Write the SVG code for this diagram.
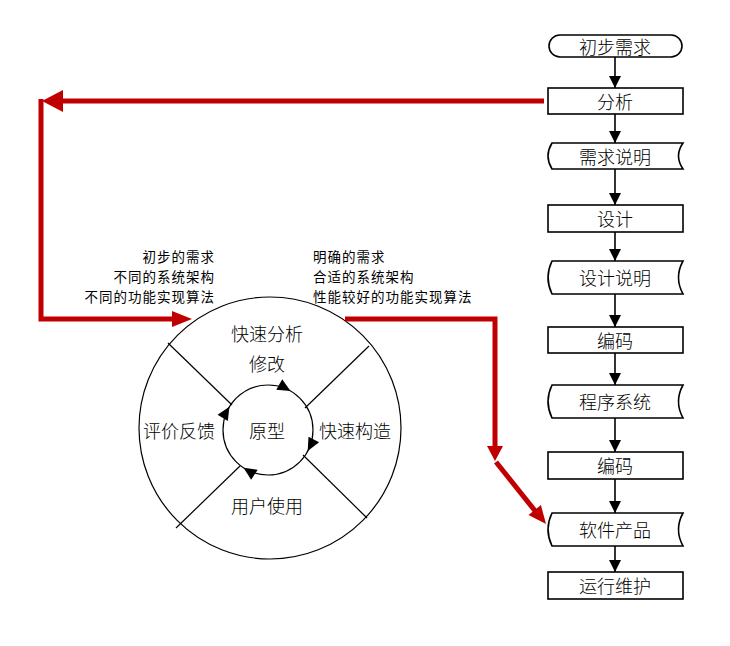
<svg xmlns="http://www.w3.org/2000/svg" xmlns:xlink="http://www.w3.org/1999/xlink" width="730" height="646" viewBox="0 0 730 646">
<style>
.box{fill:#fff;stroke:#000;stroke-width:1.6}
.lbl{font-family:"Noto Sans CJK SC","Liberation Sans",sans-serif;font-size:18px;font-weight:300;fill:#000;text-anchor:middle;dominant-baseline:central}
.cl{font-family:"Noto Sans CJK SC","Liberation Sans",sans-serif;font-size:18px;font-weight:300;fill:#000;text-anchor:middle;dominant-baseline:central}
.sm{font-family:"Noto Sans CJK SC","Liberation Sans",sans-serif;font-size:13.5px;fill:#000;letter-spacing:1px;dominant-baseline:central}
.blk{stroke:#000;stroke-width:1.6;fill:none}
.red{stroke:#C00000;stroke-width:5;fill:none}
.redh{fill:#C00000}
.thin{stroke:#000;stroke-width:1.2;fill:none}
</style>
<defs>
<marker id="ba" markerWidth="12" markerHeight="12" refX="12" refY="6" orient="auto" markerUnits="userSpaceOnUse"><path d="M0,0 L12,6 L0,12 Z" fill="#000"/></marker>
<path id="ah" d="M0,0 L-13,-6 L-13,6 Z" fill="#000"/>
</defs>
<rect width="730" height="646" fill="#fff"/>

<g id="n-chubu"><rect class="box" x="549" y="35" width="133" height="22" rx="11"/><text class="lbl" x="615" y="46">初步需求</text></g>
<g id="n-fenxi"><rect class="box" x="548" y="88" width="135" height="26"/><text class="lbl" x="615" y="101">分析</text></g>
<g id="n-xqsm"><path class="box" d="M552,143 H683 Q674,156 683,169 H552 Q544,156 552,143 Z"/><text class="lbl" x="615" y="156">需求说明</text></g>
<g id="n-sheji"><rect class="box" x="548" y="205" width="135" height="27"/><text class="lbl" x="615" y="218">设计</text></g>
<g id="n-sjsm"><path class="box" d="M552,261 H683 Q674,277.5 683,294 H552 Q544,277.5 552,261 Z"/><text class="lbl" x="615" y="277">设计说明</text></g>
<g id="n-bianma1"><rect class="box" x="548" y="327" width="135" height="26"/><text class="lbl" x="615" y="340">编码</text></g>
<g id="n-cxxt"><path class="box" d="M552,385 H683 Q674,401.5 683,418 H552 Q544,401.5 552,385 Z"/><text class="lbl" x="615" y="401">程序系统</text></g>
<g id="n-bianma2"><rect class="box" x="548" y="452" width="135" height="27"/><text class="lbl" x="615" y="465">编码</text></g>
<g id="n-rjcp"><path class="box" d="M552,513 H683 Q674,529.5 683,546 H552 Q544,529.5 552,513 Z"/><text class="lbl" x="615" y="529">软件产品</text></g>
<g id="n-yxwh"><rect class="box" x="548" y="572" width="135" height="27"/><text class="lbl" x="615" y="585">运行维护</text></g>

<g id="n-cycle">
<circle class="thin" cx="270" cy="428" r="131"/>
<circle class="thin" cx="268" cy="430" r="45"/>
<line class="thin" x1="168" y1="343" x2="232" y2="405"/>
<line class="thin" x1="369" y1="346" x2="305" y2="408"/>
<line class="thin" x1="176" y1="528" x2="240" y2="466"/>
<line class="thin" x1="367" y1="518" x2="303" y2="455"/>
<use xlink:href="#ah" transform="translate(290.5,391) rotate(30)"/>
<use xlink:href="#ah" transform="translate(307.7,451) rotate(118)"/>
<use xlink:href="#ah" transform="translate(243.5,467.7) rotate(213)"/>
<use xlink:href="#ah" transform="translate(229.4,406.8) rotate(301)"/>
<text class="cl" x="267" y="333">快速分析</text>
<text class="cl" x="267" y="363">修改</text>
<text class="cl" x="267" y="430">原型</text>
<text class="cl" x="179" y="430">评价反馈</text>
<text class="cl" x="355" y="430">快速构造</text>
<text class="cl" x="267" y="505">用户使用</text>
</g>

<g id="labels">
<text class="sm" x="215" y="256" text-anchor="end">初步的需求</text>
<text class="sm" x="215" y="276" text-anchor="end">不同的系统架构</text>
<text class="sm" x="215" y="296" text-anchor="end">不同的功能实现算法</text>
<text class="sm" x="313" y="256">明确的需求</text>
<text class="sm" x="313" y="276">合适的系统架构</text>
<text class="sm" x="313" y="296">性能较好的功能实现算法</text>
</g>

<g id="connectors">
<line class="blk" x1="615" y1="57" x2="615" y2="88" marker-end="url(#ba)"/>
<line class="blk" x1="615" y1="114" x2="615" y2="143" marker-end="url(#ba)"/>
<line class="blk" x1="615" y1="169" x2="615" y2="205" marker-end="url(#ba)"/>
<line class="blk" x1="615" y1="232" x2="615" y2="261" marker-end="url(#ba)"/>
<line class="blk" x1="615" y1="294" x2="615" y2="327" marker-end="url(#ba)"/>
<line class="blk" x1="615" y1="353" x2="615" y2="385" marker-end="url(#ba)"/>
<line class="blk" x1="615" y1="418" x2="615" y2="452" marker-end="url(#ba)"/>
<line class="blk" x1="615" y1="479" x2="615" y2="513" marker-end="url(#ba)"/>
<line class="blk" x1="615" y1="546" x2="615" y2="572" marker-end="url(#ba)"/>

<path class="red" d="M544,101 H60"/>
<polygon class="redh" points="42,101 63,90 63,112"/>
<path class="red" d="M41,99 V319 H174"/>
<polygon class="redh" points="192,319 172,311 172,327"/>
<path class="red" d="M345,319 H495 V448"/>
<polygon class="redh" points="495,461 487,446 503,446"/>
<path class="red" d="M496,462 L536,512"/>
<polygon class="redh" points="546,524 528.5,515 540.9,505"/>
</g>
</svg>
